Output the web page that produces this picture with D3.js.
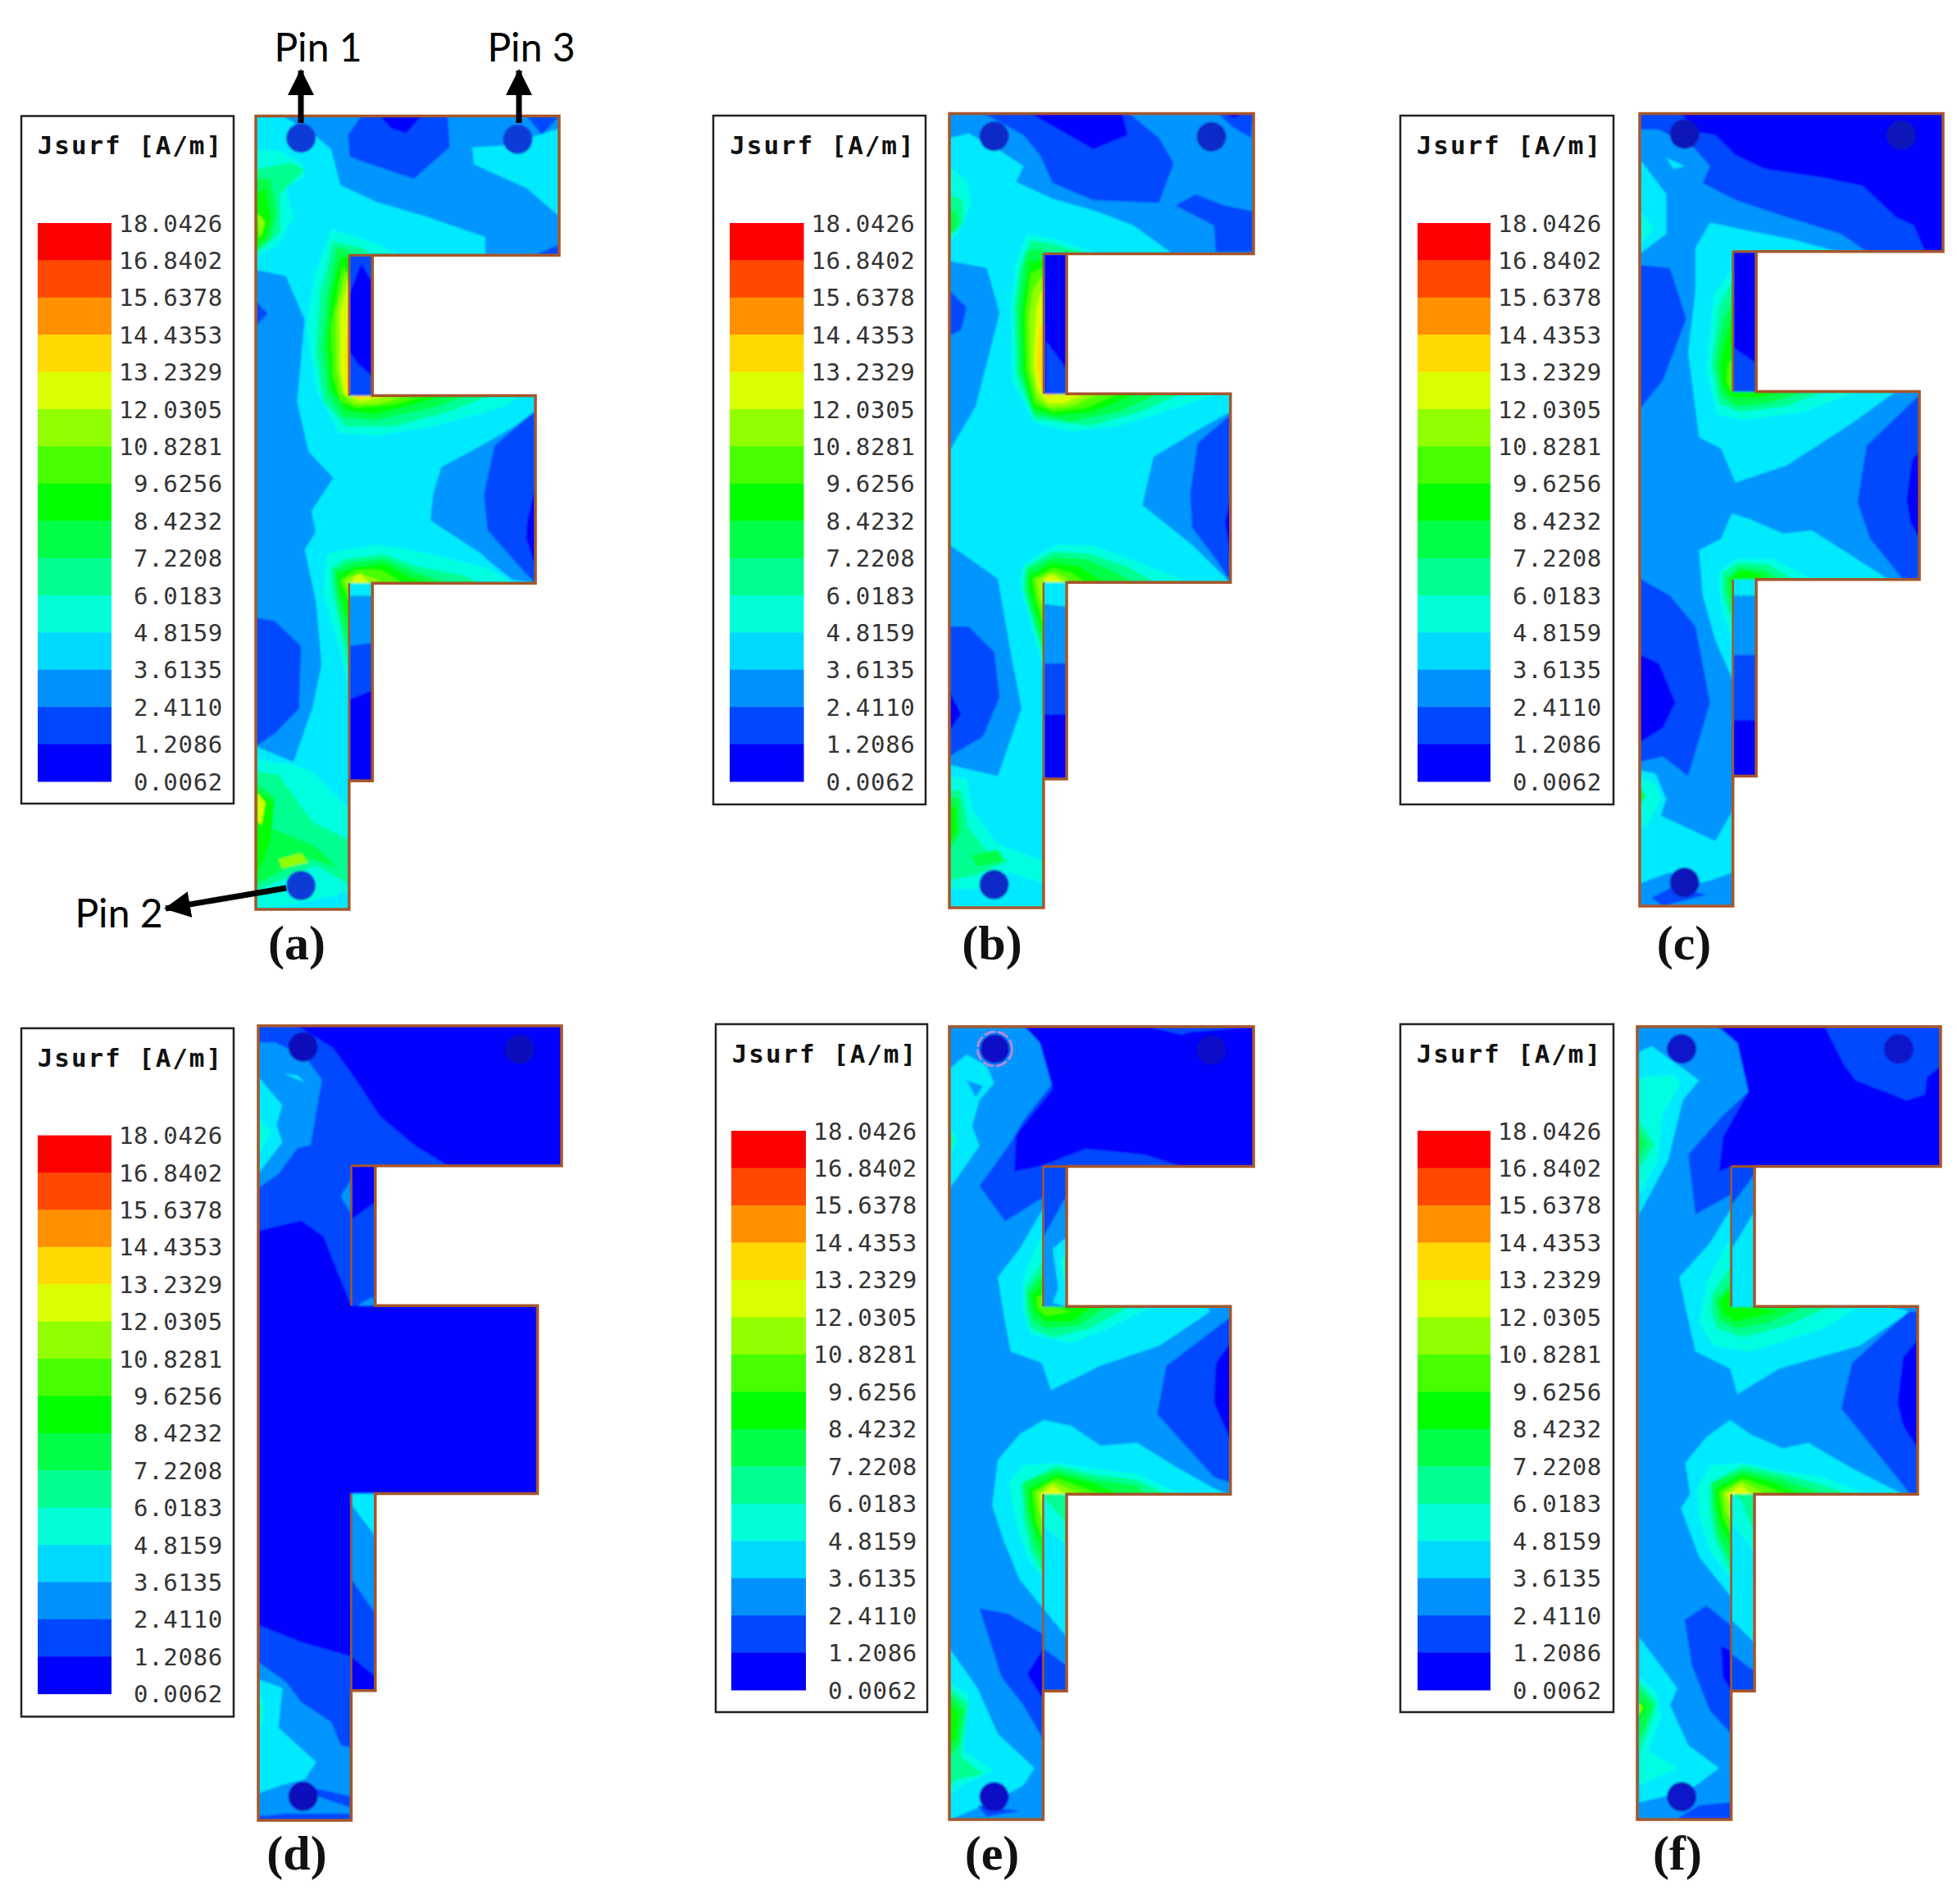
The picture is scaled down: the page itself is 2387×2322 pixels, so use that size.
<!DOCTYPE html>
<html>
<head>
<meta charset="utf-8">
<script src="https://cdn.jsdelivr.net/npm/d3@7"></script>
<style>
  body { margin: 0; background: #fff; }
  svg { display: block; }
</style>
</head>
<body>
<div id="chart"></div>
<script>
//Width and height
var w = 2387;
var h = 2322;

//Legend values, top to bottom
const legend_labels = ["18.0426", "16.8402", "15.6378", "14.4353", "13.2329", "12.0305", "10.8281", "9.6256",
    "8.4232", "7.2208", "6.0183", "4.8159", "3.6135", "2.4110", "1.2086", "0.0062"];
//Level colours, 0 is the lowest band
const level_colors = ["#0000ff", "#0048ff", "#0091ff", "#00d9ff", "#00ffd9", "#00ff91", "#00ff48", "#00ff00",
    "#48ff00", "#91ff00", "#d9ff00", "#ffd900", "#ff9100", "#ff4800", "#ff0000"];
//The plates come out a little lighter than the legend in the cyan range
const field_colors = ["#0000ff", "#0048ff", "#0095ff", "#00eaff", "#00ffe0", "#00ff91", "#00ff48", "#00ff00",
    "#48ff00", "#91ff00", "#d9ff00", "#ffd900", "#ff9100", "#ff4800", "#ff0000"];
const captions = ["(a)", "(b)", "(c)", "(d)", "(e)", "(f)"];

//F plate edges: x = left, slot, strip, arm, right / y = top, arm1, arm2, arm3, strip end, bottom
const geoA = { x: [680, 928, 990, 1423, 1486], y: [185, 407, 631, 930, 1245, 1450] };
const geoB = { x: [668, 925, 988, 1435, 1498], y: [27, 275, 523, 857, 1205, 1433] };
const geoC = { x: [697, 953, 1017, 1465, 1530], y: [27, 271, 519, 852, 1200, 1430] };
const geoD = { x: [686, 933, 997, 1428, 1492], y: [31, 276, 521, 850, 1195, 1422] };
const geoE = { x: [668, 924, 988, 1435, 1498], y: [31, 276, 521, 850, 1195, 1420] };
const geoF = { x: [690, 948, 1012, 1460, 1523], y: [31, 276, 521, 850, 1195, 1420] };

//Pin positions in the same plate units
const pinsA = [[800, 220], [1376, 222], [800, 1412]];
const pinsB = [[790, 67], [1383, 68], [790, 1392]];
const pinsC = [[820, 63], [1415, 65], [820, 1388]];
const pinsD = [[805, 68], [1380, 72], [805, 1380]];
const pinsE = [[792, 70], [1383, 72], [790, 1380]];
const pinsF = [[812, 70], [1408, 70], [812, 1380]];

const baseLevels = [2, 2, 2, 0, 2, 2];

//Jsurf bands: [level, outline], later ones paint over earlier ones
const bandsA = [
    [3, [[680,185],[750,185],[830,212],[880,238],[905,295],[1000,322],[1130,345],[1290,378],[1290,500],[1423,631],[1423,655],[1310,705],[1173,745],[1144,830],[1285,885],[1423,930],[1000,990],[928,1450],[680,1450],[680,1190],[780,1215],[830,1130],[855,1060],[840,960],[810,876],[839,849],[828,815],[886,762],[820,720],[790,640],[810,510],[760,440],[680,430]]],
    [3, [[1255,235],[1340,232],[1486,205],[1486,345],[1400,300],[1260,262]]],
    [1, [[925,215],[960,185],[1190,185],[1195,235],[1100,285],[1000,265],[930,250]]],
    [0, [[1010,185],[1120,185],[1080,212],[1040,205]]],
    [1, [[1420,407],[1486,390],[1486,407]]],
    [1, [[1400,185],[1486,185],[1440,215]]],
    [1, [[680,480],[712,500],[680,520]]],
    [1, [[680,985],[730,990],[800,1030],[795,1130],[730,1170],[680,1190]]],
    [2, [[1173,745],[1310,700],[1423,660],[1423,930],[1361,924],[1296,893],[1260,871],[1217,843],[1144,830],[1151,788]]],
    [1, [[1315,710],[1423,655],[1423,930],[1398,915],[1333,871],[1296,845],[1286,788]]],
    [0, [[1423,775],[1402,827],[1398,858],[1423,905]]],
    [4, [[880,365],[1000,388],[1060,407],[1000,500],[1390,631],[1330,650],[1150,680],[1000,695],[900,690],[840,620],[815,520],[835,440]]],
    [5, [[885,385],[960,395],[990,407],[960,500],[1300,631],[1200,655],[1050,680],[920,680],[860,640],[840,560],[850,470]]],
    [6, [[895,395],[930,400],[950,500],[1240,631],[1150,650],[1000,670],[910,665],[870,625],[855,550],[870,470]]],
    [7, [[905,410],[928,410],[960,520],[1180,631],[1100,645],[1000,660],[920,655],[880,620],[870,550],[880,470]]],
    [8, [[912,420],[950,520],[1130,631],[1050,645],[950,650],[905,640],[885,600],[880,520]]],
    [9, [[920,430],[960,560],[1080,631],[1000,645],[940,645],[905,625],[895,590],[893,500]]],
    [10, [[928,440],[928,631],[1040,631],[960,640],[915,628],[905,590],[905,500]]],
    [11, [[928,470],[928,631],[1000,631],[950,636],[920,620],[918,560]]],
    [4, [[868,884],[919,876],[1006,869],[1086,876],[1187,889],[1296,906],[1361,930],[928,1100],[900,1030],[860,950]]],
    [5, [[880,906],[919,891],[1020,884],[1115,904],[1231,917],[1271,930],[928,1070],[905,1000],[885,945]]],
    [6, [[888,910],[935,897],[1020,891],[1100,911],[1190,930],[928,1040],[905,980],[890,930]]],
    [7, [[897,915],[947,904],[1020,899],[1086,919],[1144,930],[928,1000],[905,950]]],
    [8, [[905,925],[947,908],[1010,908],[1070,930],[928,960]]],
    [9, [[915,925],[950,915],[995,922],[1020,930],[928,945]]],
    [10, [[940,920],[960,915],[980,930],[935,930]]],
    [4, [[680,240],[740,240],[800,260],[810,280],[760,300],[780,345],[740,390],[680,410]]],
    [5, [[680,270],[770,260],[810,270],[745,310],[745,370],[680,405]]],
    [6, [[680,285],[720,285],[735,340],[720,380],[680,400]]],
    [7, [[680,310],[705,300],[720,350],[705,380],[680,395]]],
    [9, [[685,340],[705,355],[690,380]]],
    [4, [[680,1210],[780,1220],[830,1230],[880,1260],[928,1290],[928,1420],[880,1430],[700,1450],[680,1450]]],
    [5, [[680,1230],[740,1235],[830,1310],[928,1340],[928,1410],[840,1380],[760,1400],[680,1420]]],
    [6, [[680,1250],[730,1270],[720,1320],[840,1350],[900,1385],[830,1370],[760,1385],[680,1410]]],
    [7, [[680,1260],[730,1280],[720,1340],[680,1400]]],
    [9, [[740,1370],[800,1360],[820,1375],[750,1385]]],
    [10, [[685,1265],[705,1280],[695,1315],[685,1310]]],
    [1, [[928,407],[990,407],[990,631],[928,631]]],
    [0, [[928,470],[960,420],[990,450],[990,600],[950,580],[928,560]]],
    [3, [[928,930],[990,930],[990,950],[928,950]]],
    [2, [[928,950],[990,950],[990,1030],[928,1030]]],
    [1, [[928,1030],[990,1025],[990,1100],[928,1115]]],
    [0, [[928,1115],[990,1100],[990,1245],[928,1245]]]
];
const bandsB = [
    [3, [[668,70],[720,62],[800,90],[870,120],[850,148],[950,178],[1070,200],[1170,225],[1270,272],[1300,400],[1435,523],[1435,555],[1340,590],[1225,635],[1195,720],[1330,790],[1435,857],[1000,950],[925,1230],[925,1433],[668,1433],[668,1180],[800,1200],[865,1080],[835,980],[800,850],[668,790],[668,625],[740,545],[805,380],[770,300],[668,288]]],
    [1, [[668,340],[715,370],[700,410],[668,420]]],
    [1, [[668,935],[720,935],[790,980],[805,1060],[760,1130],[668,1165]]],
    [0, [[668,1050],[700,1090],[668,1120]]],
    [1, [[760,27],[1160,27],[1240,70],[1280,115],[1240,185],[1060,180],[950,150],[915,100],[870,65],[800,40]]],
    [0, [[890,27],[1140,27],[1155,65],[1060,90],[980,60]]],
    [1, [[1400,27],[1498,27],[1490,70],[1440,50]]],
    [0, [[1415,27],[1470,27],[1445,35]]],
    [1, [[1285,190],[1340,170],[1420,190],[1498,200],[1498,272],[1395,272],[1390,225]]],
    [4, [[668,120],[720,150],[725,190],[690,240],[668,250]]],
    [5, [[668,170],[705,180],[705,220],[668,245]]],
    [6, [[668,195],[690,205],[690,230],[668,240]]],
    [4, [[880,240],[960,250],[1060,272],[1100,400],[1400,523],[1300,545],[1130,580],[1000,590],[900,575],[840,500],[835,370],[850,290]]],
    [5, [[890,250],[960,260],[1030,272],[1050,400],[1300,523],[1190,555],[1050,580],[900,568],[850,490],[845,370],[860,300]]],
    [6, [[880,270],[920,265],[1000,400],[1240,523],[1130,555],[1000,572],[900,560],[860,485],[855,370],[868,300]]],
    [7, [[885,290],[920,285],[1000,400],[1180,523],[1060,555],[960,562],[895,550],[868,480],[865,380]]],
    [8, [[890,310],[920,300],[1000,430],[1130,523],[1040,548],[950,555],[900,540],[878,480],[875,380]]],
    [9, [[895,340],[920,315],[990,450],[1080,523],[1000,545],[940,548],[905,530],[888,480],[885,390]]],
    [10, [[905,370],[920,340],[980,480],[1040,523],[980,540],[935,540],[908,515],[897,470]]],
    [11, [[912,410],[920,400],[960,523],[940,530],[915,510],[908,470]]],
    [4, [[870,825],[960,790],[1060,792],[1180,820],[1320,857],[1000,950],[925,1010],[890,930],[860,860]]],
    [5, [[875,830],[950,802],[1050,806],[1150,828],[1230,857],[925,990],[895,925],[870,870]]],
    [6, [[880,835],[950,812],[1040,816],[1120,838],[1170,857],[925,975],[895,915],[878,870]]],
    [7, [[885,845],[950,822],[1020,828],[1090,857],[925,955],[900,900],[885,870]]],
    [8, [[895,850],[950,832],[1000,840],[1040,857],[925,930],[905,890]]],
    [9, [[905,852],[950,838],[990,850],[990,857],[925,905],[912,880]]],
    [10, [[925,850],[950,843],[980,857],[925,870]]],
    [2, [[1195,720],[1225,635],[1340,590],[1435,555],[1435,857],[1330,790]]],
    [1, [[1325,700],[1345,610],[1435,560],[1435,857],[1400,820],[1330,760]]],
    [0, [[1420,750],[1435,710],[1435,810]]],
    [4, [[668,1200],[715,1205],[730,1260],[800,1320],[925,1350],[925,1390],[830,1370],[740,1400],[668,1400]]],
    [5, [[668,1225],[700,1225],[720,1290],[780,1340],[830,1350],[740,1375],[668,1385]]],
    [6, [[668,1235],[695,1240],[700,1300],[668,1330]]],
    [6, [[730,1340],[800,1330],[820,1350],[740,1360]]],
    [7, [[668,1250],[685,1255],[685,1300],[668,1320]]],
    [0, [[925,275],[988,275],[988,523],[925,523]]],
    [1, [[932,430],[988,480],[988,523],[932,523]]],
    [3, [[925,857],[988,857],[988,900],[925,895]]],
    [2, [[925,895],[988,900],[988,1000],[925,1000]]],
    [1, [[925,1000],[988,1000],[988,1090],[925,1090]]],
    [0, [[925,1090],[988,1090],[988,1205],[925,1205]]]
];
const bandsC = [
    [1, [[697,55],[750,55],[850,90],[890,120],[870,150],[960,180],[1100,210],[1250,240],[1320,271],[1530,271],[1530,27],[697,27]]],
    [0, [[810,27],[860,60],[905,65],[960,100],[1040,125],[1200,140],[1310,155],[1400,210],[1450,225],[1480,271],[1530,271],[1530,27]]],
    [3, [[700,110],[770,170],[770,240],[697,275]]],
    [4, [[697,200],[735,230],[697,260]]],
    [3, [[770,105],[820,120],[790,125]]],
    [1, [[697,295],[780,300],[825,390],[760,500],[697,550]]],
    [3, [[850,265],[890,220],[1000,235],[1120,250],[1240,271],[1300,400],[1400,519],[1280,575],[1100,650],[960,680],[920,620],[860,600],[830,450],[850,340]]],
    [4, [[900,350],[953,300],[1000,400],[1290,519],[1150,555],[980,570],[910,560],[880,480]]],
    [5, [[915,370],[953,320],[1000,430],[1200,519],[1100,545],[970,555],[915,540],[895,470]]],
    [6, [[925,400],[953,350],[1000,450],[1150,519],[1050,540],[960,545],[920,525],[905,470]]],
    [7, [[935,420],[953,380],[1000,480],[1100,519],[1020,530],[950,530],[925,510],[918,470]]],
    [8, [[940,470],[953,460],[970,519],[950,520],[935,500]]],
    [3, [[860,800],[920,780],[950,735],[1000,745],[1090,770],[1170,765],[1280,810],[1380,852],[1100,950],[953,1030],[905,960],[870,880]]],
    [4, [[915,840],[960,815],[1060,815],[1170,852],[953,960],[925,910],[915,870]]],
    [5, [[925,840],[970,822],[1050,825],[1120,852],[953,930],[925,880]]],
    [6, [[935,850],[970,830],[1040,835],[1080,852],[953,910],[935,870]]],
    [7, [[945,850],[975,835],[1020,840],[1040,852],[953,880]]],
    [1, [[1320,615],[1465,525],[1465,852],[1420,852],[1330,780],[1295,715]]],
    [0, [[1445,640],[1465,625],[1465,780],[1440,750],[1430,710]]],
    [1, [[697,850],[780,880],[850,935],[890,1070],[830,1200],[760,1165],[697,1175]]],
    [0, [[697,985],[750,1000],[795,1070],[760,1115],[697,1140]]],
    [3, [[700,1190],[740,1195],[770,1240],[755,1270],[905,1315],[953,1260],[953,1370],[890,1385],[770,1400],[697,1410]]],
    [4, [[697,1200],[740,1215],[755,1240],[715,1290],[697,1290]]],
    [6, [[697,1220],[715,1235],[697,1250]]],
    [2, [[697,1390],[780,1370],[890,1405],[953,1410],[953,1430],[697,1430]]],
    [1, [[730,1415],[790,1395],[880,1410],[760,1430]]],
    [0, [[953,271],[1017,271],[1017,519],[953,519]]],
    [1, [[953,440],[1017,470],[1017,519],[953,519]]],
    [3, [[953,852],[1017,852],[1017,880],[953,880]]],
    [2, [[953,880],[1017,880],[1017,985],[953,985]]],
    [1, [[953,985],[1017,985],[1017,1100],[953,1100]]],
    [0, [[953,1100],[1017,1100],[1017,1200],[953,1200]]]
];
const bandsD = [
    [1, [[686,31],[790,31],[885,70],[950,130],[1010,190],[1100,240],[1190,276],[933,276],[933,520],[890,450],[860,400],[800,372],[686,390]]],
    [2, [[686,60],[730,60],[810,85],[855,125],[825,240],[790,245],[740,290],[686,315]]],
    [3, [[686,120],[750,170],[735,205],[750,235],[686,290]]],
    [4, [[686,190],[720,215],[686,260]]],
    [3, [[755,115],[810,130],[790,118]]],
    [2, [[905,330],[933,300],[933,360]]],
    [1, [[686,1080],[800,1110],[933,1135],[933,1422],[686,1422]]],
    [2, [[686,1145],[760,1180],[800,1215],[880,1250],[905,1290],[933,1295],[933,1380],[830,1365],[740,1390],[686,1405]]],
    [3, [[686,1175],[750,1190],[740,1260],[840,1320],[810,1350],[750,1360],[686,1375]]],
    [4, [[686,1200],[700,1215],[700,1250],[686,1260]]],
    [5, [[686,1220],[695,1230],[686,1245]]],
    [2, [[686,1380],[800,1370],[933,1400],[933,1410],[760,1410],[686,1415]]],
    [1, [[933,370],[997,340],[997,521],[933,521]]],
    [2, [[950,521],[990,505],[997,521]]],
    [3, [[933,850],[997,850],[997,925],[933,870]]],
    [2, [[933,870],[997,925],[997,1060],[933,1000]]],
    [1, [[933,1000],[997,1060],[997,1170],[933,1135]]]
];
const bandsE = [
    [1, [[870,31],[920,60],[950,130],[870,195],[840,230],[750,310],[820,372],[924,330],[988,276],[1498,276],[1498,31]]],
    [0, [[875,31],[1210,31],[1340,40],[1498,31],[1498,276],[1300,276],[1200,255],[1040,245],[920,275],[845,285],[850,220],[950,140],[915,60]]],
    [1, [[1210,31],[1340,38],[1300,45]]],
    [3, [[668,105],[715,80],[770,100],[790,130],[750,160],[730,205],[750,240],[668,315]]],
    [2, [[715,125],[760,135],[740,155]]],
    [4, [[668,205],[690,230],[668,260]]],
    [5, [[668,215],[680,230],[668,250]]],
    [3, [[800,470],[860,420],[924,350],[988,400],[1370,521],[1380,530],[1240,590],[1080,625],[945,668],[920,620],[835,600],[815,530]]],
    [4, [[870,470],[924,390],[960,450],[1220,521],[1100,560],[1000,585],[890,570],[870,530]]],
    [5, [[875,490],[924,440],[970,480],[1160,521],[1050,560],[950,575],[890,560],[878,530]]],
    [6, [[880,500],[924,460],[960,500],[1100,521],[1020,555],[930,560],[895,545],[885,520]]],
    [7, [[892,500],[924,480],[950,510],[1060,521],[1000,548],[930,548],[900,530]]],
    [8, [[905,505],[924,500],[950,521],[1000,530],[930,538],[910,525]]],
    [3, [[800,790],[860,745],[925,720],[1000,730],[1080,765],[1180,760],[1280,800],[1390,840],[1430,850],[1100,950],[924,1050],[860,1000],[815,930],[785,870]]],
    [4, [[830,830],[870,800],[960,795],[1060,805],[1180,815],[1300,850],[924,1000],[880,960],[850,900]]],
    [5, [[865,830],[960,800],[1060,815],[1180,825],[1260,850],[924,990],[890,950],[870,890]]],
    [6, [[870,830],[960,808],[1070,825],[1180,835],[1200,850],[924,975],[895,930],[878,880]]],
    [7, [[885,840],[960,815],[1060,830],[1130,850],[924,950],[900,910],[885,875]]],
    [8, [[895,845],[960,822],[1040,840],[1080,850],[924,930],[905,900]]],
    [9, [[905,848],[950,828],[1010,845],[1040,850],[924,905],[912,880]]],
    [10, [[915,850],[950,835],[985,850],[924,880]]],
    [1, [[1260,625],[1435,540],[1435,830],[1390,820],[1235,710]]],
    [0, [[1395,620],[1435,585],[1435,755],[1390,690]]],
    [1, [[750,1050],[830,1060],[924,1095],[924,1280],[870,1220],[810,1170]]],
    [0, [[880,1165],[924,1120],[924,1210]]],
    [3, [[668,1120],[745,1190],[800,1270],[900,1330],[870,1360],[800,1385],[668,1420]]],
    [4, [[668,1180],[720,1200],[705,1300],[790,1335],[700,1360],[668,1380]]],
    [5, [[668,1190],[720,1215],[700,1310],[760,1340],[690,1350],[668,1360]]],
    [6, [[668,1200],[710,1225],[695,1290],[668,1310]]],
    [7, [[668,1210],[695,1235],[685,1280],[668,1290]]],
    [1, [[745,1395],[860,1405],[770,1415]]],
    [1, [[924,276],[988,276],[988,521],[924,521]]],
    [2, [[924,400],[985,330],[988,521],[924,521]]],
    [3, [[950,420],[988,400],[988,521],[950,515],[965,490]]],
    [4, [[970,440],[988,430],[988,490]]],
    [2, [[924,850],[988,850],[988,1195],[924,1195]]],
    [3, [[924,850],[988,850],[988,1100],[924,1050]]],
    [4, [[924,850],[988,850],[988,940],[924,905]]],
    [5, [[924,850],[988,850],[988,900],[930,860]]],
    [1, [[924,1120],[988,1150],[988,1195],[924,1195]]]
];
const bandsF = [
    [1, [[910,31],[965,60],[995,145],[920,190],[830,255],[850,360],[948,325],[1012,276],[1523,276],[1523,31]]],
    [0, [[915,31],[1205,31],[1260,100],[1290,125],[1430,160],[1480,150],[1485,120],[1523,100],[1523,276],[948,276],[915,285],[925,225],[995,145],[965,60]]],
    [3, [[695,75],[730,65],[860,125],[815,160],[775,265],[695,360]]],
    [4, [[695,120],[790,115],[810,130],[760,185],[745,270],[695,325]]],
    [5, [[695,195],[738,238],[695,280]]],
    [6, [[695,210],[715,235],[695,262]]],
    [3, [[805,470],[890,410],[948,350],[1012,350],[1380,521],[1440,530],[1300,590],[1080,630],[965,675],[945,630],[850,600],[825,530]]],
    [4, [[880,480],[948,400],[1000,450],[1300,521],[1200,560],[1000,600],[900,590],[860,550]]],
    [5, [[895,500],[948,450],[1000,480],[1220,521],[1100,555],[980,575],[910,560],[890,530]]],
    [6, [[905,510],[948,480],[980,510],[1150,521],[1050,550],[960,560],[915,545]]],
    [7, [[915,510],[948,490],[1000,521],[1080,530],[960,548],[925,535]]],
    [3, [[822,795],[880,750],[945,720],[1000,745],[1090,770],[1160,760],[1280,805],[1420,850],[1100,950],[948,1030],[860,960],[810,875],[835,850]]],
    [4, [[855,840],[890,800],[980,795],[1090,810],[1200,820],[1320,850],[948,1000],[890,950],[860,890]]],
    [5, [[890,830],[980,800],[1090,815],[1180,830],[1270,850],[948,990],[905,930],[890,880]]],
    [6, [[895,830],[980,808],[1080,822],[1160,840],[1200,850],[948,970],[910,920],[898,870]]],
    [7, [[905,840],[980,815],[1070,830],[1140,850],[948,945],[918,905],[905,870]]],
    [8, [[915,845],[980,822],[1050,838],[1095,850],[948,920],[925,890]]],
    [9, [[925,848],[975,828],[1030,845],[1040,850],[948,900],[932,880]]],
    [10, [[935,850],[975,835],[1005,850],[948,875]]],
    [1, [[1280,620],[1435,530],[1460,530],[1460,850],[1440,850],[1250,700]]],
    [0, [[1420,610],[1460,580],[1460,770],[1420,730],[1405,690]]],
    [1, [[820,1070],[880,1045],[948,1080],[948,1270],[890,1230],[840,1150]]],
    [0, [[920,1115],[948,1125],[948,1195],[925,1170]]],
    [3, [[695,1100],[800,1190],[780,1220],[830,1290],[915,1330],[830,1370],[695,1390]]],
    [4, [[695,1170],[745,1200],[755,1240],[720,1300],[800,1330],[695,1360]]],
    [5, [[695,1180],[745,1215],[700,1300],[695,1310]]],
    [6, [[695,1190],[735,1220],[705,1270],[695,1280]]],
    [7, [[695,1205],[715,1225],[695,1250]]],
    [9, [[695,1215],[705,1225],[695,1235]]],
    [1, [[795,1420],[860,1395],[948,1390],[948,1420]]],
    [1, [[948,276],[1012,276],[1012,521],[948,521]]],
    [2, [[948,345],[1012,290],[1012,521],[948,521]]],
    [3, [[950,420],[1012,355],[1012,521],[950,521]]],
    [2, [[948,850],[1012,850],[1012,1195],[948,1195]]],
    [3, [[948,850],[1012,850],[1012,1110],[948,1070]]],
    [4, [[948,850],[1012,850],[1012,950],[948,900]]],
    [5, [[948,850],[1012,850],[1012,920],[975,860]]],
    [1, [[948,1130],[1012,1160],[1012,1195],[948,1195]]]
];

const allGeo = [geoA, geoB, geoC, geoD, geoE, geoF];
const allPins = [pinsA, pinsB, pinsC, pinsD, pinsE, pinsF];
const allBands = [bandsA, bandsB, bandsC, bandsD, bandsE, bandsF];

//Page layout of each panel
const layout = [
    { plate: [312, 682, 141.5, 1109], box: [26, 285, 141.5, 980], bar: [46, 136, 272, 953], cap: [362, 1156], hole: "#0a3ad8" },
    { plate: [1158, 1529, 138.6, 1107], box: [870, 1129, 141, 981], bar: [890, 980.5, 272, 953], cap: [1210, 1156], hole: "#0a2bc8" },
    { plate: [2000, 2370, 138.6, 1105], box: [1708, 1968, 141, 981], bar: [1729, 1818, 272, 953], cap: [2054, 1156], hole: "#0a14b8" },
    { plate: [315, 685, 1251, 2220], box: [26, 285, 1254, 2093.5], bar: [46, 136, 1384.6, 2065.6], cap: [362, 2266], hole: "#0a10bc" },
    { plate: [1158, 1529, 1252, 2219], box: [873, 1131, 1249, 2088], bar: [892, 983, 1379, 2061], cap: [1210, 2266], hole: "#0808c8" },
    { plate: [1997, 2367, 1252, 2219], box: [1708, 1968, 1249, 2088], bar: [1729, 1818, 1379, 2061], cap: [2046, 2266], hole: "#0818c8" }
];

var svg = d3.select("#chart")
    .append("svg")
    .attr("width", w)
    .attr("height", h);

var defs = svg.append("defs");

//The source is a resampled screenshot, edges are a bit soft
defs.append("filter")
    .attr("id", "soft")
    .attr("x", "-2%").attr("y", "-2%").attr("width", "104%").attr("height", "104%")
    .append("feGaussianBlur")
    .attr("stdDeviation", 1);

defs.append("marker")
    .attr("id", "head")
    .attr("markerUnits", "userSpaceOnUse")
    .attr("markerWidth", 34).attr("markerHeight", 34)
    .attr("refX", 30).attr("refY", 16)
    .attr("orient", "auto")
    .append("path")
    .attr("d", "M0,0L32,16L0,32Z")
    .attr("fill", "#000");

function drawPanel(i) {
    var geo = allGeo[i], pos = layout[i];

    var xScale = d3.scaleLinear()
        .domain([geo.x[0], geo.x[4]])
        .range([pos.plate[0], pos.plate[1]]);
    var yScale = d3.scaleLinear()
        .domain([geo.y[0], geo.y[5]])
        .range([pos.plate[2], pos.plate[3]]);

    var line = d3.line()
        .x(function (d) { return xScale(d[0]); })
        .y(function (d) { return yScale(d[1]); })
        .curve(d3.curveLinearClosed);

    var outline = [[geo.x[0], geo.y[0]], [geo.x[4], geo.y[0]], [geo.x[4], geo.y[1]], [geo.x[2], geo.y[1]],
        [geo.x[2], geo.y[2]], [geo.x[3], geo.y[2]], [geo.x[3], geo.y[3]], [geo.x[2], geo.y[3]],
        [geo.x[2], geo.y[4]], [geo.x[1], geo.y[4]], [geo.x[1], geo.y[5]], [geo.x[0], geo.y[5]]];

    var g = svg.append("g").attr("class", "panel");

    defs.append("clipPath")
        .attr("id", "clip" + i)
        .append("path")
        .attr("d", line(outline));

    var field = g.append("g")
        .attr("clip-path", "url(#clip" + i + ")")
        .append("g")
        .attr("filter", "url(#soft)");

    field.append("path")
        .attr("d", line(outline))
        .attr("fill", field_colors[baseLevels[i]]);

    field.selectAll("path.band")
        .data(allBands[i])
        .enter()
        .append("path")
        .attr("class", "band")
        .attr("d", function (d) { return line(d[1]); })
        .attr("fill", function (d) { return field_colors[d[0]]; });

    field.selectAll("circle")
        .data(allPins[i])
        .enter()
        .append("circle")
        .attr("cx", function (d) { return xScale(d[0]); })
        .attr("cy", function (d) { return yScale(d[1]); })
        .attr("r", 18)
        .attr("fill", pos.hole);

    //Pin 1 of panel (e) keeps its ring
    if (i == 4) {
        g.append("circle")
            .attr("cx", xScale(allPins[i][0][0]))
            .attr("cy", yScale(allPins[i][0][1]))
            .attr("r", 21)
            .attr("fill", "none")
            .attr("stroke", "#b08ae0")
            .attr("stroke-width", 3)
            .attr("stroke-dasharray", "14 3");
    }

    g.append("path")
        .attr("d", line(outline))
        .attr("fill", "none")
        .attr("stroke", "#a5562b")
        .attr("stroke-width", 3.5)
        .attr("stroke-linejoin", "miter");

    //Edge of the top plate over the strips
    [[geo.y[1], geo.y[2]], [geo.y[3], geo.y[4]]].forEach(function (span) {
        g.append("line")
            .attr("x1", xScale(geo.x[1])).attr("x2", xScale(geo.x[1]))
            .attr("y1", yScale(span[0])).attr("y2", yScale(span[1]))
            .attr("stroke", "#a5562b")
            .attr("stroke-width", 2.5);
    });
    g.append("line")
        .attr("x1", xScale(geo.x[1])).attr("x2", xScale(geo.x[2]))
        .attr("y1", yScale(geo.y[1])).attr("y2", yScale(geo.y[1]))
        .attr("stroke", "#a5562b")
        .attr("stroke-width", 3);

    drawLegend(g, pos);

    g.append("text")
        .attr("x", pos.cap[0])
        .attr("y", pos.cap[1])
        .attr("text-anchor", "middle")
        .attr("dominant-baseline", "middle")
        .attr("font-family", "'Liberation Serif'")
        .attr("font-weight", "bold")
        .attr("font-size", "60px")
        .attr("fill", "#111")
        .text(captions[i]);
}

function drawLegend(g, pos) {
    var levels = d3.range(level_colors.length).reverse();

    var bandScale = d3.scaleBand()
        .domain(levels)
        .range([pos.bar[2], pos.bar[3]]);
    var labelScale = d3.scalePoint()
        .domain(legend_labels)
        .range([pos.bar[2], pos.bar[3]]);

    g.append("rect")
        .attr("x", pos.box[0])
        .attr("y", pos.box[2])
        .attr("width", pos.box[1] - pos.box[0])
        .attr("height", pos.box[3] - pos.box[2])
        .attr("fill", "#fff")
        .attr("stroke", "#222")
        .attr("stroke-width", 2.5);

    g.selectAll("rect.level")
        .data(levels)
        .enter()
        .append("rect")
        .attr("class", "level")
        .attr("x", pos.bar[0])
        .attr("y", function (d) { return bandScale(d); })
        .attr("width", pos.bar[1] - pos.bar[0])
        .attr("height", bandScale.bandwidth() + 0.5)
        .attr("fill", function (d) { return level_colors[d]; });

    g.selectAll("text.value")
        .data(legend_labels)
        .enter()
        .append("text")
        .attr("class", "value")
        .attr("x", pos.bar[1] + 136)
        .attr("y", function (d) { return labelScale(d) + 2.5; })
        .attr("text-anchor", "end")
        .attr("dominant-baseline", "middle")
        .attr("font-family", "'DejaVu Sans Mono'")
        .attr("font-size", "29px")
        .attr("letter-spacing", "0.7")
        .attr("fill", "#333")
        .text(function (d) { return d; });

    g.append("text")
        .attr("x", pos.bar[1] + 136)
        .attr("y", pos.box[2] + 38)
        .attr("text-anchor", "end")
        .attr("dominant-baseline", "middle")
        .attr("font-family", "'DejaVu Sans Mono'")
        .attr("font-weight", "bold")
        .attr("font-size", "31px")
        .attr("letter-spacing", "1.9")
        .attr("fill", "#111")
        .text("Jsurf [A/m]");
}

d3.range(6).forEach(drawPanel);

//Pin call-outs on panel (a)
const pin_labels = [["Pin 1", 388, 63], ["Pin 3", 648, 63], ["Pin 2", 145, 1119]];
const pin_arrows = [[367, 150, 367, 86], [633, 150, 633, 86], [349, 1083, 202, 1108]];

svg.selectAll("text.pin")
    .data(pin_labels)
    .enter()
    .append("text")
    .attr("class", "pin")
    .attr("x", function (d) { return d[1]; })
    .attr("y", function (d) { return d[2]; })
    .attr("text-anchor", "middle")
    .attr("dominant-baseline", "middle")
    .attr("font-family", "Lato")
    .attr("font-size", "48px")
    .attr("fill", "#000")
    .text(function (d) { return d[0]; });

svg.selectAll("line.arrow")
    .data(pin_arrows)
    .enter()
    .append("line")
    .attr("class", "arrow")
    .attr("x1", function (d) { return d[0]; })
    .attr("y1", function (d) { return d[1]; })
    .attr("x2", function (d) { return d[2]; })
    .attr("y2", function (d) { return d[3]; })
    .attr("stroke", "#000")
    .attr("stroke-width", 7)
    .attr("marker-end", "url(#head)");
</script>
</body>
</html>
